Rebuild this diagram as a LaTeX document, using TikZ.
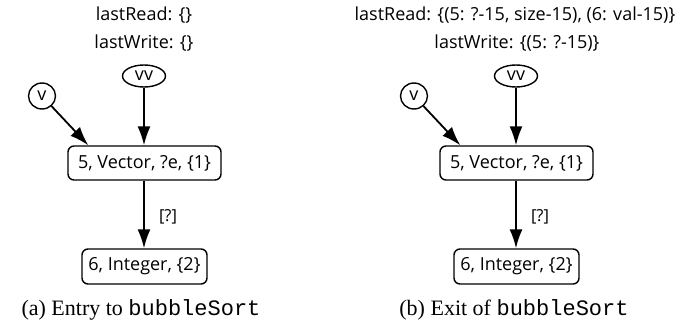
\documentclass[tikz,border=0pt]{standalone}
\usepackage{fontspec}
\setmainfont{Liberation Serif}
\setmonofont{Liberation Mono}
\newfontfamily\graphfont{Open Sans}
\usetikzlibrary{arrows.meta,calc,shapes.geometric}

\tikzset{
  gtext/.style={font=\graphfont\fontsize{18}{22}\selectfont, inner sep=0pt},
  refbox/.style={draw, rounded corners=6pt, line width=1.4pt, inner sep=0pt,
    font=\graphfont\fontsize{18}{22}\selectfont},
  varnode/.style={draw, ellipse, line width=1.4pt, inner sep=0pt,
    font=\graphfont\fontsize{18}{22}\selectfont},
  link/.style={line width=1.8pt, -{Latex[length=19pt,width=13pt]}},
  elabel/.style={font=\graphfont\fontsize{16.5}{20}\selectfont, inner sep=0pt},
  caption/.style={font=\fontsize{22}{26}\selectfont, inner sep=0pt},
}

\begin{document}
\begin{tikzpicture}[x=1pt,y=1pt]
  \useasboundingbox (0,0) rectangle (680,-324);

  % (a) entry state
  \node[gtext] (ra) at (144,-15) {lastRead: \{\}};
  \node[gtext] (wa) at (144,-43) {lastWrite: \{\}};
  \node[varnode, minimum width=43pt, minimum height=22pt] (vva) at (144,-76) {vv};
  \node[varnode, minimum width=27pt, minimum height=26pt] (va) at (42,-96) {v};
  \node[refbox, minimum width=153pt, minimum height=34pt] (veca) at (144.5,-163) {5, Vector, ?e, \{1\}};
  \node[refbox, minimum width=125pt, minimum height=35pt] (inta) at (144.5,-266.5) {6, Integer, \{2\}};
  \draw[link] (va) -- ([xshift=21pt]veca.north west);
  \draw[link] (vva) -- (vva |- veca.north);
  \draw[link] (vva |- veca.south) -- node[elabel, pos=0.5, xshift=24pt, yshift=-2pt] {[?]} (vva |- inta.north);
  \node[caption] (capa) at (141,-310) {(a) Entry to \texttt{bubbleSort}};

  % (b) exit state
  \node[gtext] (rb) at (515,-15) {lastRead: \{(5: ?-15, size-15), (6: val-15)\}};
  \node[gtext] (wb) at (517,-43) {lastWrite: \{(5: ?-15)\}};
  \node[varnode, minimum width=43pt, minimum height=22pt] (vvb) at (516,-76) {vv};
  \node[varnode, minimum width=27pt, minimum height=26pt] (vb) at (414,-96) {v};
  \node[refbox, minimum width=153pt, minimum height=34pt] (vecb) at (516.5,-163) {5, Vector, ?e, \{1\}};
  \node[refbox, minimum width=125pt, minimum height=35pt] (intb) at (516.5,-266.5) {6, Integer, \{2\}};
  \draw[link] (vb) -- ([xshift=21pt]vecb.north west);
  \draw[link] (vvb) -- (vvb |- vecb.north);
  \draw[link] (vvb |- vecb.south) -- node[elabel, pos=0.5, xshift=24pt, yshift=-2pt] {[?]} (vvb |- intb.north);
  \node[caption] (capb) at (514,-310) {(b) Exit of \texttt{bubbleSort}};
\end{tikzpicture}
\end{document}
